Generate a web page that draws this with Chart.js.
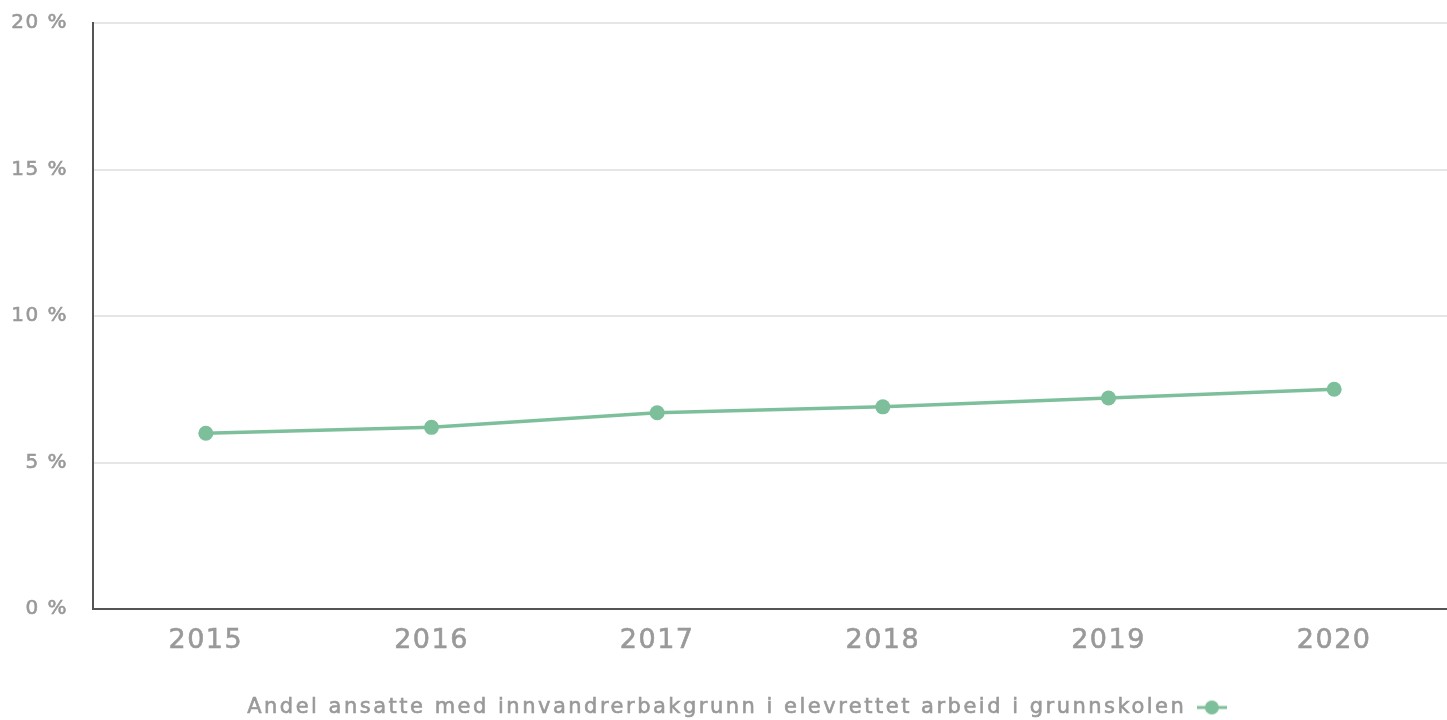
<!DOCTYPE html>
<html lang="no">
<head>
    <meta charset="UTF-8">
    <title>Andel ansatte med innvandrerbakgrunn</title>
    <script src="https://cdn.jsdelivr.net/npm/chart.js"></script>
    <style>
        html, body {
            margin: 0;
            padding: 0;
            background: #ffffff;
        }
        .chart-box {
            position: relative;
            width: 1447px;
            height: 720px;
        }
    </style>
</head>
<body>
    <div class="chart-box">
        <canvas id="lineChart"></canvas>
    </div>
    <script>
        // data
        const years = ['2015', '2016', '2017', '2018', '2019', '2020'];
        const shareValues = [6.0, 6.2, 6.7, 6.9, 7.2, 7.5];
        const yTicks = [0, 5, 10, 15, 20];
        const seriesLabel = 'Andel ansatte med innvandrerbakgrunn i elevrettet arbeid i grunnskolen';

        const green = 'rgb(125, 191, 154)';
        const grey = '#999999';

        // font sizes -> letter spacing (canvas has no letter-spacing option in Chart.js)
        const Y_FONT = 20, LEGEND_FONT = 21, X_FONT = 27;
        const spacingBySize = { 20: '1.5px', 21: '2.5px', 27: '1.5px' };

        // legend marker: short line with a dot
        const marker = document.createElement('canvas');
        marker.width = 30;
        marker.height = 16;
        const mctx = marker.getContext('2d');
        mctx.strokeStyle = green;
        mctx.lineWidth = 3;
        mctx.beginPath();
        mctx.moveTo(0, 8);
        mctx.lineTo(30, 8);
        mctx.stroke();
        mctx.fillStyle = green;
        mctx.beginPath();
        mctx.arc(15, 8, 7, 0, Math.PI * 2);
        mctx.fill();

        const ctx = document.getElementById('lineChart').getContext('2d');

        // spaced, slightly heavier text on this chart's context only
        function spacingFor(font) {
            const m = /(\d+(?:\.\d+)?)px/.exec(font);
            return (m && spacingBySize[Math.round(+m[1])]) || '0px';
        }
        const protoFill = CanvasRenderingContext2D.prototype.fillText;
        const protoMeasure = CanvasRenderingContext2D.prototype.measureText;
        ctx.measureText = function (text) {
            this.letterSpacing = spacingFor(this.font);
            return protoMeasure.call(this, text);
        };
        ctx.fillText = function (text, x, y, maxWidth) {
            this.save();
            this.letterSpacing = spacingFor(this.font);
            if (maxWidth === undefined) protoFill.call(this, text, x, y);
            else protoFill.call(this, text, x, y, maxWidth);
            this.lineWidth = 0.6;
            this.strokeStyle = this.fillStyle;
            this.strokeText(text, x, y);
            this.restore();
        };

        // legend sits a little right of centre in the reference
        // (rtl mirroring makes the move 1.5x the left offset)
        const legendShift = {
            id: 'legendShift',
            afterLayout(chart) {
                if (chart.legend) chart.legend.left += 9;
            }
        };

        new Chart(ctx, {
            type: 'line',
            data: {
                labels: years,
                datasets: [{
                    label: seriesLabel,
                    data: shareValues,
                    borderColor: green,
                    backgroundColor: green,
                    borderWidth: 3.5,
                    pointRadius: 7.5,
                    pointHoverRadius: 7.5,
                    pointBorderWidth: 0,
                    pointBackgroundColor: green,
                    tension: 0,
                    fill: false
                }]
            },
            options: {
                responsive: true,
                maintainAspectRatio: false,
                animation: false,
                layout: {
                    autoPadding: false,
                    padding: { top: 23, left: 0, right: 0, bottom: -8 }
                },
                plugins: {
                    tooltip: { enabled: false },
                    legend: {
                        position: 'bottom',
                        rtl: true,
                        labels: {
                            usePointStyle: true,
                            pointStyle: marker,
                            pointStyleWidth: 30,
                            padding: 4,
                            color: grey,
                            font: { family: 'DejaVu Sans', size: LEGEND_FONT }
                        }
                    }
                },
                scales: {
                    x: {
                        offset: true,
                        grid: { display: false, drawTicks: false },
                        border: { display: true, color: '#555555', width: 2 },
                        ticks: {
                            color: grey,
                            padding: 16,
                            font: { family: 'DejaVu Sans', size: X_FONT }
                        },
                        afterFit(scale) {
                            scale.height = 84;
                            scale.paddingLeft = 0;
                            scale.paddingRight = 0;
                        }
                    },
                    y: {
                        min: 0,
                        max: 20,
                        grid: { color: '#e6e6e6', lineWidth: 2, drawTicks: false },
                        border: { display: true, color: '#555555', width: 2 },
                        afterBuildTicks(scale) {
                            scale.ticks = yTicks.map(v => ({ value: v }));
                        },
                        ticks: {
                            color: grey,
                            padding: 25,
                            font: { family: 'DejaVu Sans', size: Y_FONT },
                            callback: v => v + ' %'
                        },
                        afterFit(scale) {
                            scale.width = 93;
                            scale.paddingTop = 0;
                            scale.paddingBottom = 0;
                        }
                    }
                }
            },
            plugins: [legendShift]
        });
    </script>
</body>
</html>
